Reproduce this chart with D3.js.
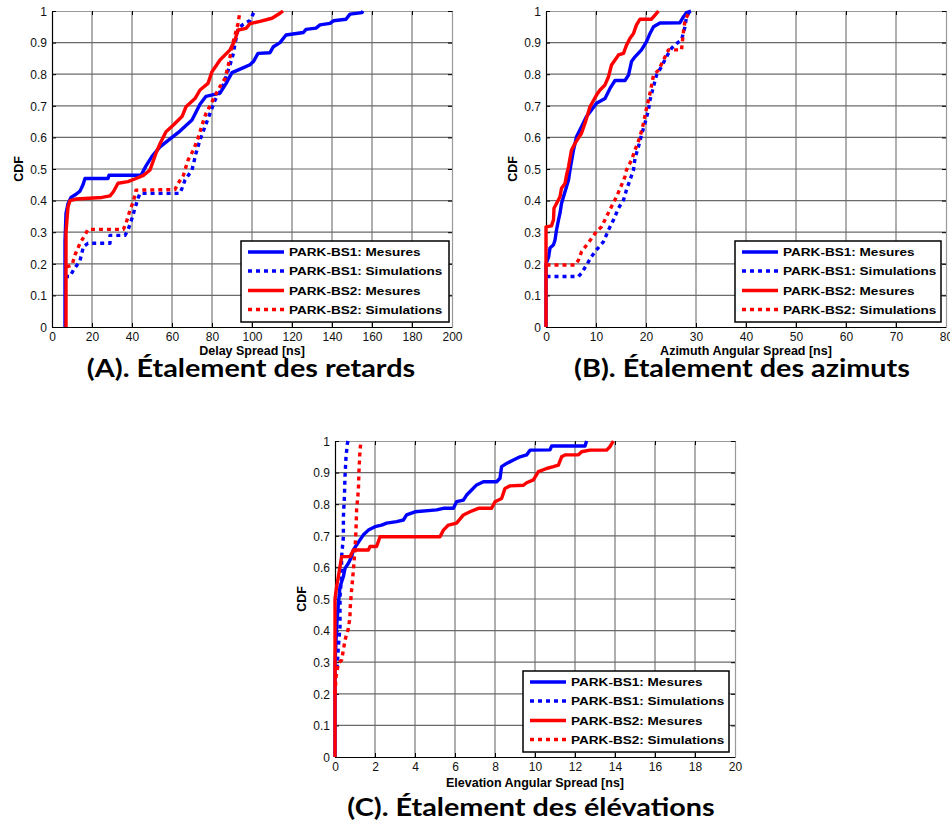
<!DOCTYPE html>
<html><head><meta charset="utf-8">
<script src="https://cdn.jsdelivr.net/npm/d3@7"></script>
<style>
html,body{margin:0;padding:0;background:#fff;}
svg{display:block;}
</style></head>
<body>
<svg id="chart" width="950" height="837"></svg>
<script>
// ---------- DATA ----------
const seriesNames = ["PARK-BS1: Mesures","PARK-BS1: Simulations","PARK-BS2: Mesures","PARK-BS2: Simulations"];
const yTicks = [0,0.1,0.2,0.3,0.4,0.5,0.6,0.7,0.8,0.9,1];
const yTickLabels = ["0","0.1","0.2","0.3","0.4","0.5","0.6","0.7","0.8","0.9","1"];

// (A) Delay spread [ns]
const delayTicks = [0,20,40,60,80,100,120,140,160,180,200];
const delayBS1Mes = [[6.5,0],[6.5,0.27],[7,0.36],[8,0.39],[9.5,0.41],[12,0.42],[14,0.43],[15.5,0.45],[16.5,0.47],[28,0.47],[28.5,0.48],[44.5,0.48],[47,0.51],[50,0.54],[54,0.57],[60,0.6],[64,0.62],[70,0.655],[74,0.705],[77,0.73],[84,0.74],[87,0.77],[90,0.805],[95.5,0.82],[99,0.83],[100.7,0.84],[103,0.866],[109,0.868],[110.7,0.887],[114,0.9],[117,0.924],[125.7,0.932],[127,0.942],[132,0.946],[134,0.956],[139,0.961],[140.7,0.969],[147,0.974],[149,0.99],[155,0.995],[155.5,1]];
const delayBS1Sim = [[6.5,0.16],[9,0.16],[10.7,0.18],[14,0.21],[15.7,0.254],[18,0.265],[29,0.265],[29,0.29],[36.5,0.29],[38,0.307],[40,0.344],[41.5,0.376],[43,0.407],[44,0.423],[64,0.423],[65,0.439],[66.5,0.465],[70,0.497],[72,0.55],[74,0.592],[76.5,0.634],[79,0.676],[81.5,0.718],[85,0.755],[87,0.792],[89,0.829],[90.7,0.866],[91.5,0.897],[93,0.94],[95,0.955],[99,0.97],[100.5,0.99],[101.5,1]];
const delayBS2Mes = [[7,0],[7,0.3],[8,0.38],[9,0.4],[12,0.405],[25,0.41],[29,0.415],[30.7,0.428],[33,0.455],[38,0.46],[42,0.47],[45.7,0.48],[49,0.497],[52,0.55],[54,0.58],[57,0.618],[60.7,0.639],[65,0.666],[67,0.697],[71.5,0.723],[74,0.75],[78,0.771],[80,0.808],[84,0.845],[89,0.877],[91.5,0.908],[93,0.94],[97,0.945],[99,0.96],[104,0.967],[110,0.977],[114,0.993],[115.5,1]];
const delayBS2Sim = [[7.3,0.19],[10,0.196],[11.5,0.228],[14,0.265],[16.5,0.291],[18,0.309],[35.7,0.309],[37,0.328],[39,0.37],[40.7,0.397],[42,0.433],[61.5,0.435],[63,0.454],[65.7,0.48],[68,0.528],[70.7,0.56],[73,0.597],[75,0.639],[77,0.676],[80,0.713],[83,0.75],[86.5,0.787],[88,0.824],[89,0.855],[90,0.887],[91.5,0.924],[93,0.96],[94,1]];

// (B) Azimuth angular spread
const azTicks = [0,10,20,30,40,50,60,70,80];
const azBS1Mes = [[0,0],[0,0.2],[0.5,0.22],[0.8,0.25],[1.5,0.26],[1.8,0.275],[2.1,0.307],[2.5,0.339],[2.8,0.36],[3.1,0.391],[3.5,0.412],[4.1,0.444],[4.5,0.465],[4.8,0.497],[5.5,0.56],[6.1,0.602],[7.1,0.634],[8.1,0.666],[9.1,0.687],[10.1,0.708],[11.8,0.723],[12.8,0.755],[13.8,0.78],[15.8,0.78],[16.5,0.797],[17.1,0.84],[17.8,0.855],[19.1,0.877],[20.1,0.903],[20.8,0.929],[21.5,0.95],[22.8,0.962],[26.8,0.963],[27.5,0.982],[28.1,0.995],[29,1]];
const azBS1Sim = [[0.1,0.16],[6.5,0.16],[7.1,0.17],[8.1,0.196],[9.1,0.223],[10.1,0.244],[11.5,0.27],[12.5,0.307],[13.5,0.339],[14.5,0.376],[15.5,0.402],[16.1,0.434],[16.8,0.465],[17.5,0.497],[17.8,0.534],[18.5,0.571],[19.1,0.608],[19.8,0.645],[20.5,0.687],[20.8,0.718],[21.5,0.761],[22.1,0.797],[23.1,0.824],[24.1,0.855],[25.1,0.882],[26.1,0.897],[27.1,0.908],[27.8,0.95],[28.1,0.982],[28.8,1]];
const azBS2Mes = [[0,0],[0,0.317],[1.1,0.32],[1.5,0.339],[1.6,0.376],[2.1,0.391],[2.8,0.412],[3.1,0.439],[3.8,0.454],[4.1,0.48],[4.5,0.507],[5.1,0.56],[5.8,0.581],[7.1,0.613],[7.8,0.645],[8.8,0.697],[10.1,0.734],[10.8,0.75],[11.8,0.766],[12.5,0.792],[13.1,0.829],[13.8,0.845],[14.5,0.861],[15.5,0.866],[16.1,0.892],[16.8,0.914],[17.5,0.929],[18.1,0.956],[18.8,0.974],[21.1,0.974],[21.8,0.987],[22.5,1]];
const azBS2Sim = [[0.1,0.196],[5.8,0.196],[6.5,0.212],[7.1,0.238],[8.1,0.259],[9.1,0.28],[10.1,0.302],[11.1,0.317],[12.1,0.349],[13.1,0.381],[14.1,0.412],[15.1,0.449],[15.8,0.476],[16.1,0.497],[17.1,0.528],[17.8,0.56],[18.8,0.602],[19.5,0.645],[20.1,0.692],[20.8,0.739],[21.5,0.797],[22.5,0.813],[23.5,0.845],[24.5,0.877],[27.1,0.877],[27.5,0.935],[27.8,0.97],[28.5,0.993],[28.8,1]];

// (C) Elevation angular spread
const elTicks = [0,2,4,6,8,10,12,14,16,18,20];
const elBS1Mes = [[0,0],[0,0.29],[0.08,0.412],[0.17,0.486],[0.25,0.539],[0.42,0.571],[0.5,0.597],[0.67,0.613],[0.83,0.634],[0.92,0.655],[1.08,0.671],[1.25,0.687],[1.42,0.703],[1.67,0.718],[2,0.729],[2.33,0.734],[2.58,0.74],[3.08,0.745],[3.42,0.75],[3.58,0.766],[4,0.776],[5.08,0.782],[5.42,0.787],[5.92,0.787],[6.08,0.808],[6.42,0.813],[6.58,0.829],[6.83,0.845],[7.08,0.861],[7.42,0.871],[8.08,0.871],[8.25,0.882],[8.33,0.919],[8.58,0.929],[8.92,0.94],[9.25,0.95],[9.58,0.956],[9.75,0.971],[10.75,0.972],[10.83,0.984],[12.5,0.984],[12.58,1]];
const elBS1Sim = [[0.1,0.28],[0.17,0.35],[0.25,0.412],[0.25,0.507],[0.33,0.571],[0.33,0.634],[0.42,0.697],[0.42,0.76],[0.47,0.824],[0.5,0.887],[0.55,0.95],[0.62,0.992],[0.65,1]];
const elBS2Mes = [[0,0],[0,0.5],[0.08,0.539],[0.17,0.571],[0.25,0.602],[0.33,0.634],[0.75,0.634],[0.92,0.655],[1.67,0.655],[1.75,0.666],[2.08,0.666],[2.25,0.697],[5.25,0.697],[5.42,0.718],[5.67,0.734],[6.08,0.74],[6.42,0.766],[6.75,0.776],[7.17,0.787],[7.83,0.787],[8,0.808],[8.33,0.818],[8.5,0.85],[8.75,0.858],[9.42,0.86],[9.58,0.868],[9.92,0.877],[10.17,0.903],[10.58,0.913],[10.92,0.919],[11.17,0.924],[11.33,0.95],[11.5,0.956],[12.17,0.956],[12.33,0.966],[12.75,0.971],[13.58,0.971],[13.75,0.982],[13.92,1]];
const elBS2Sim = [[0,0.2],[0.05,0.254],[0.17,0.296],[0.33,0.307],[0.42,0.339],[0.5,0.37],[0.67,0.407],[0.75,0.444],[0.75,0.465],[0.83,0.528],[0.92,0.592],[1,0.655],[1.05,0.718],[1.08,0.782],[1.17,0.845],[1.2,0.908],[1.25,0.971],[1.3,1]];

const panelTitles = ["(A). Étalement des retards","(B). Étalement des azimuts","(C). Étalement des élévations"];
const xLabels = ["Delay Spread [ns]","Azimuth Angular Spread [ns]","Elevation Angular Spread [ns]"];

// ---------- DRAWING ----------
const svg = d3.select("#chart");
const FONT = "'Liberation Sans', Arial, sans-serif";
const seriesStyle = [
  {color:"#0000ff", dash:null},
  {color:"#0000ff", dash:"4,4"},
  {color:"#ff0000", dash:null},
  {color:"#ff0000", dash:"4,4"}
];
const PW = 400, PH = 316;

function drawPanel(cfg){
  const g = svg.append("g");
  const x = d3.scaleLinear().domain([cfg.ticks[0], cfg.ticks[cfg.ticks.length-1]]).range([cfg.left, cfg.left+PW]);
  const y = d3.scaleLinear().domain([0,1]).range([cfg.top+PH, cfg.top]);

  // grid
  const grid = g.append("g");
  grid.selectAll("line.v").data(cfg.ticks.slice(1,-1)).join("line")
    .attr("x1",d=>x(d)).attr("x2",d=>x(d)).attr("y1",cfg.top).attr("y2",cfg.top+PH)
    .attr("stroke","#7a7a7a").attr("stroke-width",1.2);
  grid.selectAll("line.h").data(yTicks.slice(1,-1)).join("line")
    .attr("x1",cfg.left).attr("x2",cfg.left+PW).attr("y1",d=>y(d)).attr("y2",d=>y(d))
    .attr("stroke","#6a6a6a").attr("stroke-width",1.2);

  // axes
  const styleAxis = (sel, domainColor)=>{
    sel.attr("font-family",FONT).attr("font-size",12);
    sel.select(".domain").attr("stroke",domainColor).attr("stroke-width",1.2);
    sel.selectAll(".tick line").attr("stroke","#000");
    sel.selectAll("text").attr("fill","#111");
  };
  const gb = g.append("g").attr("transform",`translate(0,${cfg.top+PH})`)
    .call(d3.axisBottom(x).tickValues(cfg.ticks).tickSizeInner(-4).tickSizeOuter(0).tickPadding(5).tickFormat(d3.format("d")));
  styleAxis(gb,"#000");
  gb.selectAll("text").attr("y",14).attr("dy",0);
  const gt = g.append("g").attr("transform",`translate(0,${cfg.top})`)
    .call(d3.axisTop(x).tickValues(cfg.ticks).tickSizeInner(-4).tickSizeOuter(0).tickFormat(""));
  styleAxis(gt,"#999");
  const gl = g.append("g").attr("transform",`translate(${cfg.left},0)`)
    .call(d3.axisLeft(y).tickValues(yTicks).tickSizeInner(-4).tickSizeOuter(0).tickFormat((d,i)=>yTickLabels[i]));
  styleAxis(gl,"#000");
  gl.selectAll("text").attr("x",-5).attr("dy","0.35em");
  const gr = g.append("g").attr("transform",`translate(${cfg.left+PW},0)`)
    .call(d3.axisRight(y).tickValues(yTicks).tickSizeInner(-4).tickSizeOuter(0).tickFormat(""));
  styleAxis(gr,"#999");

  // series
  const line = d3.line().x(d=>x(d[0])).y(d=>y(d[1]));
  cfg.series.forEach((s,i)=>{
    g.append("path").datum(s).attr("d",line)
      .attr("fill","none").attr("stroke",seriesStyle[i].color).attr("stroke-width",3.4)
      .attr("stroke-linejoin","round")
      .attr("stroke-dasharray",seriesStyle[i].dash);
  });

  // axis labels
  g.append("text").attr("x",cfg.left+PW/2).attr("y",cfg.top+PH+cfg.xLabOff)
    .attr("text-anchor","middle").attr("font-family",FONT).attr("font-weight","bold").attr("font-size","12.5px")
    .text(cfg.xLabel);
  g.append("text").attr("transform",`translate(${cfg.left-29},${cfg.top+PH/2}) rotate(-90)`)
    .attr("text-anchor","middle").attr("font-family",FONT).attr("font-weight","bold").attr("font-size","12.5px")
    .text("CDF");

  // legend
  const lg = g.append("g").attr("transform",`translate(${cfg.legX},${cfg.legY})`);
  lg.append("rect").attr("x",0).attr("y",0).attr("width",cfg.legW).attr("height",81)
    .attr("fill","#fff").attr("stroke","#000").attr("stroke-width",1.5);
  const rowY = [11,30,49.5,68.5];
  seriesNames.forEach((n,i)=>{
    lg.append("line").attr("x1",7).attr("x2",43).attr("y1",rowY[i]).attr("y2",rowY[i])
      .attr("stroke",seriesStyle[i].color).attr("stroke-width",3.4).attr("stroke-dasharray",seriesStyle[i].dash);
    lg.append("text").attr("transform",`translate(48,${rowY[i]+4.2}) scale(1.17,1)`)
      .attr("font-family",FONT).attr("font-weight","bold").attr("font-size","11.6px").text(n);
  });

  // panel title (horizontally stretched, as in the reference image)
  g.append("text").attr("transform",`translate(${cfg.titleX},${cfg.titleY}) scale(1.2,1)`).attr("text-anchor","middle")
    .attr("font-family","Lato, 'Open Sans', sans-serif").attr("font-weight","bold").attr("font-size","24px")
    .text(cfg.title);
}

drawPanel({left:52, top:11, ticks:delayTicks, series:[delayBS1Mes,delayBS1Sim,delayBS2Mes,delayBS2Sim],
  xLabel:xLabels[0], xLabOff:28, title:panelTitles[0], titleX:251, titleY:377, legX:241, legY:241, legW:208});
drawPanel({left:546, top:11, ticks:azTicks, series:[azBS1Mes,azBS1Sim,azBS2Mes,azBS2Sim],
  xLabel:xLabels[1], xLabOff:28, title:panelTitles[1], titleX:742, titleY:377, legX:735, legY:241, legW:206});
drawPanel({left:335, top:441, ticks:elTicks, series:[elBS1Mes,elBS1Sim,elBS2Mes,elBS2Sim],
  xLabel:xLabels[2], xLabOff:30, title:panelTitles[2], titleX:531, titleY:816, legX:523, legY:671, legW:206});
</script>
</body></html>
